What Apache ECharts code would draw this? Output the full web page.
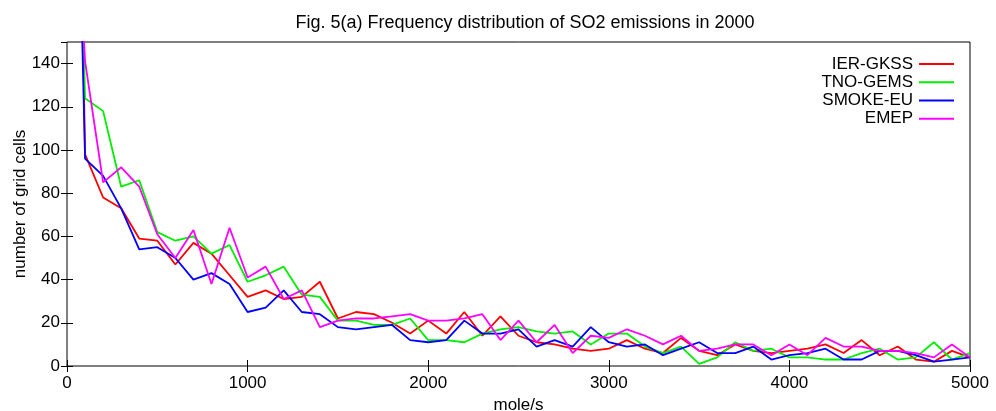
<!DOCTYPE html>
<html>
<head>
<meta charset="utf-8">
<script src="https://cdn.jsdelivr.net/npm/echarts@6/dist/echarts.min.js"></script>
<style>
  html, body { margin: 0; padding: 0; background: #fff; }
  #chart { width: 996px; height: 411px; }
</style>
</head>
<body>
<div id="chart"></div>
<script>
// Emission bins (mole/s), one every 100 from 0 to 5000
const bins = [
  0, 100, 200, 300, 400, 500, 600, 700, 800, 900,
  1000, 1100, 1200, 1300, 1400, 1500, 1600, 1700, 1800, 1900,
  2000, 2100, 2200, 2300, 2400, 2500, 2600, 2700, 2800, 2900,
  3000, 3100, 3200, 3300, 3400, 3500, 3600, 3700, 3800, 3900,
  4000, 4100, 4200, 4300, 4400, 4500, 4600, 4700, 4800, 4900,
  5000
];

// Number of grid cells per bin, per inventory
const ierGkss = [
  600, 98, 78, 73, 59, 58, 47, 57, 52, 42,
  32, 35, 31, 32, 39, 22, 25, 24, 20, 15,
  21, 15, 25, 14, 23, 14, 11, 10, 8, 7,
  8, 12, 8, 6, 13, 7, 5, 10, 7, 6,
  7, 8, 10, 6, 12, 5, 9, 3, 2, 7,
  4
];
const tnoGems = [
  450, 124, 118, 83, 86, 62, 58, 60, 52, 56,
  39, 42, 46, 33, 32, 21, 21, 19, 19, 22,
  12, 12, 11, 15, 17, 18, 16, 15, 16, 10,
  15, 15, 9, 6, 9, 1, 4, 11, 7, 8,
  4, 4, 3, 3, 6, 8, 3, 4, 11, 3,
  6
];
const smokeEu = [
  450, 96, 88, 73, 54, 55, 50, 40, 43, 38,
  25, 27, 35, 25, 24, 18, 17, 18, 19, 12,
  11, 12, 21, 15, 15, 17, 9, 12, 9, 18,
  11, 9, 10, 5, 8, 11, 6, 6, 9, 3,
  5, 6, 8, 3, 3, 7, 7, 5, 2, 3,
  4
];
const emep = [
  300, 141, 85, 92, 83, 61, 50, 63, 38, 64,
  41, 46, 31, 35, 18, 21, 22, 22, 23, 24,
  21, 21, 22, 24, 12, 21, 11, 19, 6, 14,
  13, 17, 14, 10, 14, 7, 8, 10, 10, 5,
  10, 5, 13, 9, 9, 7, 7, 6, 4, 10,
  4
];

const seriesNames = ['IER-GKSS', 'TNO-GEMS', 'SMOKE-EU', 'EMEP'];
const seriesColors = ['#ff0000', '#00ee00', '#0000ff', '#ff00ff'];
const seriesValues = [ierGkss, tnoGems, smokeEu, emep];

const FONT = '"Liberation Sans", Arial, sans-serif';

const pairs = vals => bins.map((b, i) => [b, vals[i]]);

const chart = echarts.init(document.getElementById('chart'), null, { renderer: 'canvas' });

const tickStyle = { inside: true, length: 6, lineStyle: { color: '#000', width: 1 } };
const plain = v => String(v);

chart.setOption({
  animation: false,
  backgroundColor: '#fff',
  title: {
    text: 'Fig. 5(a) Frequency distribution of SO2 emissions in 2000',
    left: 520,
    top: 9,
    textAlign: 'center',
    textStyle: { fontFamily: FONT, fontSize: 18, fontWeight: 'normal', color: '#000' }
  },
  legend: {
    orient: 'vertical',
    right: 37,
    top: 50,
    align: 'right',
    itemGap: 0,
    itemWidth: 35,
    itemHeight: 2,
    icon: 'rect',
    data: seriesNames,
    textStyle: { fontFamily: FONT, fontSize: 17, color: '#000', lineHeight: 18.2, padding: [0, 1, 0, 0] }
  },
  grid: {
    left: 67, right: 26, top: 42, bottom: 45,
    show: true, borderColor: '#000', borderWidth: 1,
    containLabel: false,
    outerBoundsMode: 'none'
  },
  xAxis: [
    {
      type: 'value', min: 0, max: 5000, interval: 1000,
      name: 'mole/s', nameLocation: 'middle', nameGap: 29,
      nameTextStyle: { fontFamily: FONT, fontSize: 17, color: '#000' },
      axisLine: { show: false },
      axisTick: tickStyle,
      axisLabel: { fontFamily: FONT, fontSize: 17, color: '#000', margin: 9, formatter: plain },
      splitLine: { show: false }
    },
    {
      type: 'value', min: 0, max: 5000, interval: 1000, position: 'top',
      axisLine: { show: false },
      axisTick: tickStyle,
      axisLabel: { show: false },
      splitLine: { show: false }
    }
  ],
  yAxis: [
    {
      type: 'value', min: 0, max: 150, interval: 20,
      name: 'number of grid cells', nameLocation: 'middle', nameGap: 38,
      nameMoveOverlap: false,
      nameTextStyle: { fontFamily: FONT, fontSize: 17, color: '#000' },
      axisLine: { show: false },
      axisTick: tickStyle,
      axisLabel: { fontFamily: FONT, fontSize: 17, color: '#000', margin: 7, showMaxLabel: false, formatter: plain },
      splitLine: { show: false }
    },
    {
      type: 'value', min: 0, max: 150, interval: 20, position: 'right',
      axisLine: { show: false },
      axisTick: tickStyle,
      axisLabel: { show: false },
      splitLine: { show: false }
    }
  ],
  series: seriesNames.map((name, k) => ({
    name,
    type: 'line',
    xAxisIndex: 0,
    yAxisIndex: 0,
    data: pairs(seriesValues[k]),
    showSymbol: false,
    symbol: 'none',
    clip: true,
    color: seriesColors[k],
    lineStyle: { color: seriesColors[k], width: 1.8 }
  }))
});
</script>
</body>
</html>
